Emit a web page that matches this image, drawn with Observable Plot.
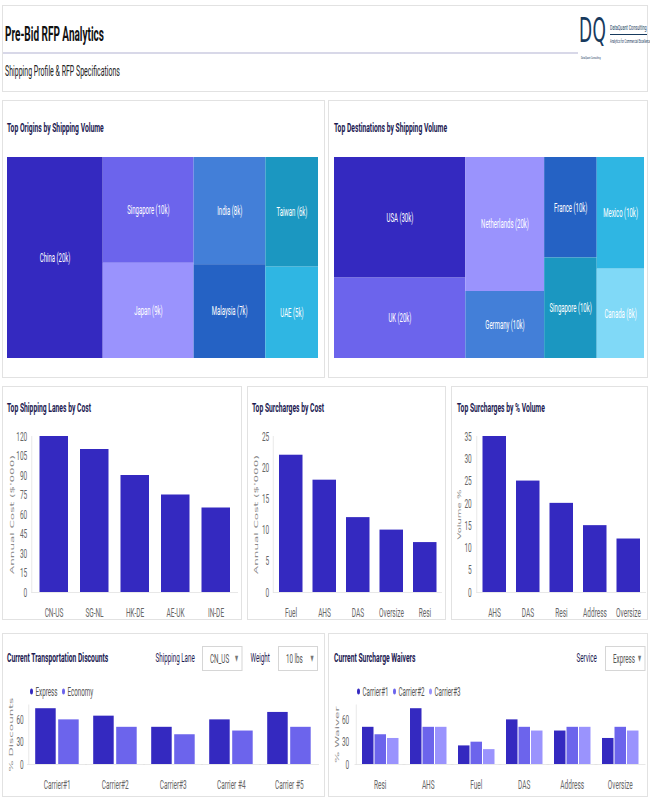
<!DOCTYPE html>
<html><head><meta charset="utf-8">
<script src="https://cdn.jsdelivr.net/npm/d3@7"></script>
<script src="https://cdn.jsdelivr.net/npm/@observablehq/plot@0.6"></script>
<style>
html,body{margin:0;padding:0;background:#fff;overflow:hidden;}
#wrap{position:relative;width:1300px;height:800px;transform:scaleX(0.5);transform-origin:0 0;font-family:Roboto,"DejaVu Sans",sans-serif;}
.card{position:absolute;box-sizing:border-box;border:1px solid #e2e2e2;border-left-width:2px;border-right-width:2px;background:#fff;}
.t{position:absolute;white-space:nowrap;line-height:1;transform:translateY(-50%);}
.title{font-weight:bold;font-size:13.5px;color:#1c1a52;}
.ctl{font-size:12.5px;font-weight:400;color:#1c1a52;}
.box{position:absolute;box-sizing:border-box;border:1px solid #d6d6d6;border-left-width:2px;border-right-width:2px;background:#fff;}
.opt{font-size:12.5px;color:#555;}
.arr{font-size:8px;color:#777;}
.plot{position:absolute;}
.plot svg{display:block;}
.legend{position:absolute;display:flex;align-items:center;font-size:12.5px;color:#555;transform:translateY(-50%);white-space:nowrap;}
.legend .dot{width:6px;height:6px;border-radius:50%;margin-right:5px;}
.legend .item{display:flex;align-items:center;margin-right:9px;}
</style></head><body><div id="wrap"></div>
<script>
// ---------- data ----------
const originNames = ["China", "Singapore", "Japan", "India", "Malaysia", "Taiwan", "UAE"];
const originValues = [20, 10, 9, 8, 7, 6, 5];
const originColumns = [0, 1, 1, 2, 2, 3, 3];

const destNames = ["USA", "UK", "Netherlands", "Germany", "France", "Singapore", "Mexico", "Canada"];
const destValues = [30, 20, 20, 10, 10, 10, 10, 8];
const destColumns = [0, 0, 1, 1, 2, 2, 3, 3];

const lanes = ["CN-US", "SG-NL", "HK-DE", "AE-UK", "IN-DE"];
const laneCost = [120, 110, 90, 75, 65];
const laneTicks = [0, 15, 30, 45, 60, 75, 90, 105, 120];

const surchargesCost = ["Fuel", "AHS", "DAS", "Oversize", "Resi"];
const surchargeCostValues = [22, 18, 12, 10, 8];
const surchargeCostTicks = [0, 5, 10, 15, 20, 25];

const surchargesVol = ["AHS", "DAS", "Resi", "Address", "Oversize"];
const surchargeVolValues = [35, 25, 20, 15, 12];
const surchargeVolTicks = [0, 5, 10, 15, 20, 25, 30, 35];

const carriers = ["Carrier#1", "Carrier#2", "Carrier#3", "Carrier #4", "Carrier #5"];
const services = ["Express", "Economy"];
const expressDiscount = [75, 65, 50, 60, 70];
const economyDiscount = [60, 50, 40, 45, 50];

const waiverTypes = ["Resi", "AHS", "Fuel", "DAS", "Address", "Oversize"];
const waiverCarriers = ["Carrier#1", "Carrier#2", "Carrier#3"];
const waiverC1 = [50, 75, 25, 60, 45, 35];
const waiverC2 = [40, 50, 30, 50, 50, 50];
const waiverC3 = [35, 50, 20, 45, 50, 45];
const pctTicks = [0, 30, 60];

// ---------- styles ----------
const BAR = "#3429c0";
const originPalette = ["#3429c0", "#6c64ec", "#9a93fd", "#437fd8", "#2562c4", "#1b97c1", "#2fb6e3"];
const destPalette = ["#3429c0", "#6c64ec", "#9a93fd", "#437fd8", "#2562c4", "#1b97c1", "#2fb6e3", "#80d9f7"];
const groupPalette = ["#3429c0", "#6c64ec", "#9a93fd"];
const FONT = "Roboto";
const LABEL_FONT = "DejaVu Sans";

const wrap = document.getElementById("wrap");
function div(cls, css, text) {
  const d = document.createElement("div");
  d.className = cls;
  Object.assign(d.style, css);
  if (text != null) d.textContent = text;
  wrap.appendChild(d);
  return d;
}
function text(t, left, cy, cls, css = {}) {
  return div("t " + cls, Object.assign({left: left + "px", top: cy + "px"}, css), t);
}
function place(svg, left, top, width) {
  const d = div("plot", {left: left + "px", top: top + "px", width: width + "px"});
  d.appendChild(svg);
}
function card(l, t, w, h) { div("card", {left: l + "px", top: t + "px", width: w + "px", height: h + "px"}); }

// ---------- cards ----------
card(4, 5, 1292, 87);
card(4, 100, 646, 278); card(656, 100, 640, 278);
card(4, 386, 480, 234); card(494, 386, 398, 234); card(902, 386, 394, 234);
card(4, 633, 646, 164); card(656, 633, 640, 164);

// ---------- header ----------
text("Pre-Bid RFP Analytics", 10, 33.5, "", {fontWeight: "bold", fontSize: "20px", color: "#111"});
div("", {position: "absolute", left: "6px", top: "52px", width: "1150px", height: "2px", background: "#d8d8e8"});
text("Shipping Profile & RFP Specifications", 10, 70.5, "", {fontSize: "14px", color: "#222"});
text("DQ", 1158, 30, "", {fontFamily: "DejaVu Sans", fontSize: "34px", color: "#173a5e", letterSpacing: "1px"});
text("DataQuant Consulting", 1162, 58, "", {fontSize: "4px", color: "#173a5e"});
text("DataQuant Consulting", 1220, 27.5, "", {fontSize: "7.5px", color: "#173a5e"});
div("", {position: "absolute", left: "1220px", top: "34px", width: "74px", height: "1px", background: "#173a5e"});
text("Analytics for Commercial Excellence", 1220, 41, "", {fontSize: "5px", color: "#173a5e"});

// ---------- treemaps ----------
function cells(names, values, cols) {
  const items = names.map((n, i) => ({name: n, value: values[i], col: cols[i]}));
  const root = d3.hierarchy({children: d3.groups(items, d => d.col).map(([, ch]) => ({children: ch}))})
    .sum(d => d.value || 0);
  d3.treemap().tile(d3.treemapSliceDice).size([1, 1]).round(false)(root);
  return root.leaves().map(l => ({name: l.data.name, value: l.data.value, x1: l.x0, x2: l.x1, y1: l.y0, y2: l.y1}));
}
function treemap(names, values, cols, palette, w, h) {
  const data = cells(names, values, cols);
  return Plot.plot({
    width: w, height: h, margin: 0,
    style: {fontFamily: FONT, background: "transparent"},
    x: {domain: [0, 1], axis: null},
    y: {domain: [0, 1], range: [0, h], axis: null},
    color: {domain: names, range: palette},
    marks: [
      Plot.rect(data, {x1: "x1", x2: "x2", y1: "y1", y2: "y2", fill: "name"}),
      Plot.text(data, {x: d => (d.x1 + d.x2) / 2, y: d => (d.y1 + d.y2) / 2,
        text: d => `${d.name} (${d.value}k)`, fill: "#fff", fontSize: 12})
    ]
  });
}
text("Top Origins by Shipping Volume", 14, 128, "title");
text("Top Destinations by Shipping Volume", 668, 128, "title");
place(treemap(originNames, originValues, originColumns, originPalette, 622, 201), 14, 157, 622);
place(treemap(destNames, destValues, destColumns, destPalette, 620, 201), 668, 157, 620);

// ---------- bar charts ----------
function barChart({cats, vals, ticks, yMax, label, labelSize, width, ml, mr, pO, tp, lo}) {
  const data = cats.map((c, i) => ({c, v: vals[i]}));
  return Plot.plot({
    width, height: 195, marginTop: 11, marginBottom: 28, marginLeft: ml, marginRight: mr,
    style: {fontFamily: FONT, fontSize: "13px", color: "#666", background: "transparent"},
    x: {domain: cats, paddingInner: 0.3, paddingOuter: pO},
    y: {domain: [0, yMax]},
    marks: [
      Plot.frame({anchor: "left", stroke: "#e0e0e0"}),
      Plot.ruleY([0], {stroke: "#e0e0e0"}),
      Plot.barY(data, {x: "c", y: "v", fill: BAR}),
      Plot.axisX({tickSize: 0, tickPadding: 15, label: null}),
      Plot.axisY({ticks, tickSize: 0, tickPadding: tp, label: null}),
      Plot.axisY({ticks: [], label, labelAnchor: "center", labelArrow: "none", labelOffset: lo,
        fontFamily: LABEL_FONT, fontSize: labelSize, fill: "#888"})
    ]
  });
}
text("Top Shipping Lanes by Cost", 14, 408, "title");
text("Top Surcharges by Cost", 504, 408, "title");
text("Top Surcharges by % Volume", 914, 408, "title");
place(barChart({cats: lanes, vals: laneCost, ticks: laneTicks, yMax: 120, label: "Annual Cost ($'000)", labelSize: 12,
  width: 480, ml: 59, mr: 8, pO: 0.17, tp: 9, lo: 44}), 4, 425, 480);
place(barChart({cats: surchargesCost, vals: surchargeCostValues, ticks: surchargeCostTicks, yMax: 25, label: "Annual Cost ($'000)", labelSize: 12,
  width: 398, ml: 52, mr: 8, pO: 0.16, tp: 8, lo: 39}), 494, 425, 398);
place(barChart({cats: surchargesVol, vals: surchargeVolValues, ticks: surchargeVolTicks, yMax: 35, label: "Volume %", labelSize: 10,
  width: 394, ml: 51, mr: 4, pO: 0.17, tp: 10, lo: 38}), 902, 425, 394);

// ---------- grouped bars ----------
function grouped({groups, series, rows, palette, label, width, ml, mr, fxPad, xPadOuter, tp, lo}) {
  return Plot.plot({
    width, height: 102, marginTop: 9.5, marginBottom: 33, marginLeft: ml, marginRight: mr,
    style: {fontFamily: FONT, fontSize: "13px", color: "#666", background: "transparent"},
    fx: {domain: groups, paddingInner: fxPad, paddingOuter: 0},
    x: {domain: series, paddingInner: 0.1, paddingOuter: xPadOuter, axis: null},
    y: {domain: [0, 80]},
    color: {domain: series, range: palette},
    marks: [
      Plot.frame({anchor: "left", facetAnchor: "left", stroke: "#e0e0e0"}),
      Plot.ruleY([0], {stroke: "#e0e0e0", insetLeft: -3, insetRight: -3}),
      Plot.barY(rows, {fx: "g", x: "s", y: "v", fill: "s"}),
      Plot.axisFx({anchor: "bottom", tickSize: 0, tickPadding: 15, label: null}),
      Plot.axisY({ticks: pctTicks, tickSize: 0, tickPadding: tp, label: null}),
      Plot.axisY({ticks: [], label, labelAnchor: "center", labelArrow: "none", labelOffset: lo,
        fontFamily: LABEL_FONT, fontSize: 12, fill: "#888"})
    ]
  });
}
const discountRows = carriers.flatMap((g, i) => [
  {g, s: services[0], v: expressDiscount[i]},
  {g, s: services[1], v: economyDiscount[i]}
]);
const waiverRows = waiverTypes.flatMap((g, i) => [
  {g, s: waiverCarriers[0], v: waiverC1[i]},
  {g, s: waiverCarriers[1], v: waiverC2[i]},
  {g, s: waiverCarriers[2], v: waiverC3[i]}
]);

text("Current Transportation Discounts", 14, 658, "title");
text("Current Surcharge Waivers", 668, 658, "title");
text("Shipping Lane", 311, 658, "ctl");
text("Weight", 501, 658, "ctl");
text("Service", 1153, 658, "ctl");
function dropdown(label, left, width) {
  div("box", {left: left + "px", top: "646px", width: width + "px", height: "25px"});
  text(label, left + 16, 658.5, "opt");
  text("\u25BC", left + width - 15, 658.5, "arr");
}
dropdown("CN_US", 404, 81);
dropdown("10 lbs", 556, 80);
dropdown("Express", 1210, 81);

function legend(names, palette, left) {
  const lg = div("legend", {left: left + "px", top: "691px"});
  names.forEach((n, i) => {
    const it = document.createElement("div"); it.className = "item";
    const dot = document.createElement("div"); dot.className = "dot"; dot.style.background = palette[i];
    const sp = document.createElement("span"); sp.textContent = n;
    it.appendChild(dot); it.appendChild(sp); lg.appendChild(it);
  });
}
legend(services, groupPalette, 60);
legend(waiverCarriers, groupPalette, 714);

place(grouped({groups: carriers, series: services, rows: discountRows, palette: groupPalette.slice(0, 2),
  label: "% Discounts", width: 646, ml: 52.6, mr: 14, fxPad: 0.02, xPadOuter: 0.28, tp: 10, lo: 41}), 4, 695, 646);
place(grouped({groups: waiverTypes, series: waiverCarriers, rows: waiverRows, palette: groupPalette,
  label: "% Waiver", width: 640, ml: 54, mr: 6, fxPad: 0.0, xPadOuter: 0.42, tp: 14, lo: 43}), 656, 695, 640);
</script></body></html>
